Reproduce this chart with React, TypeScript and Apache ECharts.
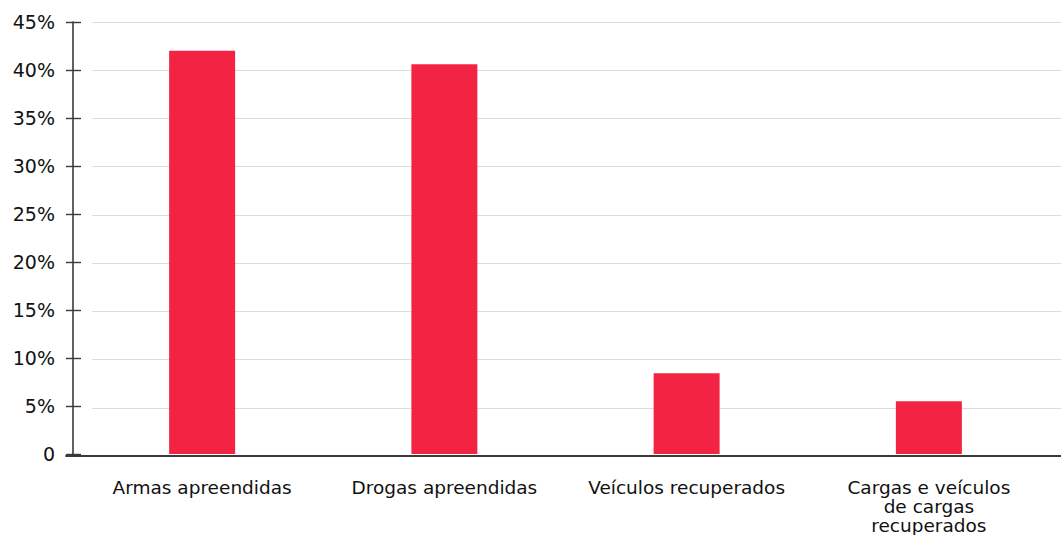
import React, { useEffect, useRef } from "react";
import * as echarts from "echarts";

// Share of results by type of seizure / recovery
const categories: string[] = [
  "Armas apreendidas",
  "Drogas apreendidas",
  "Veículos recuperados",
  "Cargas e veículos\nde cargas\nrecuperados",
];
const shares: number[] = [42.0, 40.6, 8.4, 5.5];

const yMin = 0;
const yMax = 45;
const yStep = 5;

const FONT = "'DejaVu Sans', sans-serif";
const BAR_COLOR = "#F32443";
const AXIS_COLOR = "#3a3a3a";
const GRID_COLOR = "#dcdcdc";

const TOP = 22;
const BOTTOM = 79;

export default function App() {
  const ref = useRef<HTMLDivElement>(null);

  useEffect(() => {
    if (!ref.current) return;
    const chart = echarts.init(ref.current, null, { renderer: "svg" });

    const hiddenAxis = {
      axisLine: { show: false },
      axisTick: { show: false },
      axisLabel: { show: false },
      splitLine: { show: false },
    };

    chart.setOption({
      animation: false,
      backgroundColor: "#ffffff",
      grid: [
        // bars, tick labels and tick marks
        { left: 81, right: 11, top: TOP, bottom: BOTTOM },
        // horizontal gridlines
        { left: 92, right: 0, top: TOP, bottom: BOTTOM },
        // axis lines
        { left: 66, right: 0, top: TOP, bottom: BOTTOM },
      ],
      xAxis: [
        {
          gridIndex: 0,
          type: "category",
          data: categories,
          axisLine: { show: false },
          axisTick: { show: false },
          axisLabel: {
            color: "#111",
            fontFamily: FONT,
            fontSize: 18.5,
            lineHeight: 19,
            margin: 24,
            align: "center",
            interval: 0,
          },
        },
        { gridIndex: 1, type: "value", min: 0, max: 1, ...hiddenAxis },
        {
          gridIndex: 2,
          type: "value",
          min: 0,
          max: 1,
          axisLine: { show: true, lineStyle: { color: AXIS_COLOR, width: 1.8 } },
          axisTick: { show: false },
          axisLabel: { show: false },
          splitLine: { show: false },
        },
      ],
      yAxis: [
        {
          gridIndex: 0,
          type: "value",
          min: yMin,
          max: yMax,
          interval: yStep,
          axisLine: { show: false },
          axisTick: {
            show: true,
            length: 15,
            lineStyle: { color: AXIS_COLOR, width: 1.4 },
          },
          axisLabel: {
            color: "#111",
            fontFamily: FONT,
            fontSize: 19,
            margin: 26,
            formatter: (v: number) => (v === 0 ? "0" : `${v}%`),
          },
          splitLine: { show: false },
        },
        {
          gridIndex: 1,
          type: "value",
          min: yMin,
          max: yMax,
          interval: yStep,
          axisLine: { show: false },
          axisTick: { show: false },
          axisLabel: { show: false },
          splitLine: { show: true, lineStyle: { color: GRID_COLOR, width: 1.2 } },
        },
        {
          gridIndex: 2,
          type: "value",
          min: yMin,
          max: yMax,
          interval: yStep,
          offset: -7,
          axisLine: { show: true, lineStyle: { color: AXIS_COLOR, width: 1.6 } },
          axisTick: { show: false },
          axisLabel: { show: false },
          splitLine: { show: false },
        },
      ],
      series: [
        {
          type: "line",
          xAxisIndex: 1,
          yAxisIndex: 1,
          data: [],
          silent: true,
          z: 1,
        },
        {
          type: "line",
          xAxisIndex: 2,
          yAxisIndex: 2,
          data: [],
          silent: true,
          z: 1,
        },
        {
          type: "bar",
          xAxisIndex: 0,
          yAxisIndex: 0,
          data: shares,
          barWidth: 66,
          itemStyle: { color: BAR_COLOR },
          z: 3,
        },
      ],
    });

    return () => chart.dispose();
  }, []);

  return (
    <div
      ref={ref}
      style={{ position: "fixed", left: 0, top: 0, width: 1061, height: 535 }}
    />
  );
}
